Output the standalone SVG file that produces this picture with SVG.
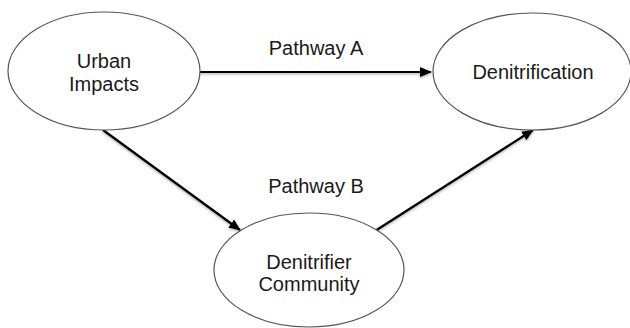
<svg xmlns="http://www.w3.org/2000/svg" width="630" height="328" viewBox="0 0 630 328">
  <defs>
    <style>
      .node ellipse { fill: #ffffff; stroke: #555555; stroke-width: 1.2; }
      .label { font-family: "Liberation Sans", Arial, sans-serif; font-size: 20px; fill: #1a1a1a; text-anchor: middle; }
      .edge { stroke: #000000; stroke-width: 2.2; fill: none; marker-end: url(#arrow); }
    </style>
    <marker id="arrow" markerUnits="userSpaceOnUse" markerWidth="12" markerHeight="10" refX="11" refY="5" orient="auto">
      <path d="M0,0 L12,5 L0,10 Z" fill="#000000"/>
    </marker>
    <filter id="soft" x="-10%" y="-10%" width="120%" height="130%">
      <feDropShadow dx="0" dy="1.5" stdDeviation="1" flood-color="#000000" flood-opacity="0.3"/>
    </filter>
  </defs>

  <rect width="630" height="328" fill="#ffffff"/>

  <!-- connectors -->
  <g id="connectors" filter="url(#soft)">
    <line class="edge" x1="200" y1="72" x2="431" y2="72"/>
    <line class="edge" x1="103" y1="130" x2="240" y2="230"/>
    <line class="edge" x1="375" y1="231" x2="533" y2="130"/>
  </g>

  <!-- edge labels -->
  <g id="edge-labels">
    <text class="label" x="316" y="55">Pathway A</text>
    <text class="label" x="316" y="193">Pathway B</text>
  </g>

  <!-- nodes -->
  <g id="urban-impacts" class="node">
    <ellipse cx="104" cy="71" rx="96" ry="59"/>
    <text class="label" x="104" y="68">Urban</text>
    <text class="label" x="104" y="91">Impacts</text>
  </g>

  <g id="denitrification" class="node">
    <ellipse cx="532" cy="71.5" rx="99" ry="58.5"/>
    <text class="label" x="533" y="79">Denitrification</text>
  </g>

  <g id="denitrifier-community" class="node">
    <ellipse cx="309" cy="270" rx="95" ry="57"/>
    <text class="label" x="309" y="269">Denitrifier</text>
    <text class="label" x="309" y="291">Community</text>
  </g>
</svg>
